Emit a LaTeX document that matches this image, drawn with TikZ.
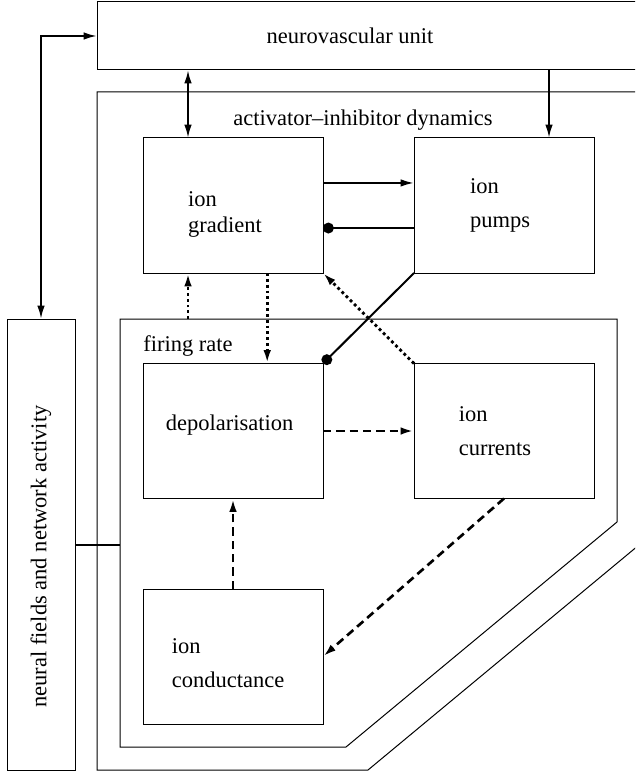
\documentclass[tikz,border=0pt]{standalone}
\usepackage{fontspec}
\setmainfont{Liberation Serif}
\usepackage{graphicx}
\usetikzlibrary{arrows.meta, positioning, calc}

\begin{document}
\begin{tikzpicture}[
    x=0.6pt, y=-0.6pt,
    node distance=54.3pt and 54.6pt,
    every node/.style={font=\fontsize{13.5}{20}\selectfont},
    every label/.style={align=left},
    frame/.style={draw, line width=0.6pt},
    box/.style={frame, inner sep=0pt, outer sep=0pt,
                minimum width=108pt, minimum height=81pt},
    arrow/.style={-{Latex[length=8pt, width=4.5pt]}, line width=1.2pt},
    twoway/.style={{Latex[length=8pt, width=4.5pt]}-{Latex[length=8pt, width=4.5pt]},
                   line width=1.2pt},
    inhib/.style={-{Circle[length=6.5pt]}, line width=1.2pt},
    dotarrow/.style={arrow, line width=1.7pt, dash pattern=on 1.7pt off 1.8pt},
    dasharrow/.style={arrow, line width=1.6pt, dash pattern=on 5pt off 3pt}
]
    \clip (0,0) rectangle (635,773);

    % outer frames
    \node[frame, inner sep=0pt, outer sep=0pt, minimum width=328.8pt,
          minimum height=40.8pt,
          label={[xshift=-12.6pt]center:neurovascular unit}] (nvu) at (371,36) {};
    \node[frame, inner sep=0pt, outer sep=0pt, minimum width=40.8pt,
          minimum height=270.6pt,
          label={[yshift=-7.2pt]center:\rotatebox{90}{neural fields and network activity}}]
        (neural) at (41,544.5) {};
    \draw[frame] (645,92) -- (97,92) -- (97,770) -- (368,770) -- (645,540);
    \draw[frame] (120,319) -- (617,319) -- (617,522) -- (346,747)
        -- (120,747) -- cycle;
    \coordinate (rate-nw) at (120,319);
    \coordinate (rate-w) at (120,545);
    \node (dyn) at (363,120) {activator--inhibitor dynamics};
    \node[anchor=west, inner sep=0pt] (rate) at (143,346) {firing rate};

    % boxes
    \node[box, label={[xshift=-4.8pt, yshift=-5.4pt,
          font=\fontsize{13.5}{16}\selectfont]center:ion\\gradient}]
        (gradient) at (233,205.5) {};
    \node[box, right=of gradient,
          label={[xshift=-2.4pt]center:ion\\pumps}] (pumps) {};
    \node[box, below=of gradient,
          label={[xshift=-2pt, yshift=3.6pt]center:depolarisation}] (depol) {};
    \node[box, right=of depol,
          label={[xshift=-5.4pt]center:ion\\currents}] (currents) {};
    \node[box, below=of depol,
          label={[xshift=-3pt, yshift=-4pt]center:ion\\conductance}] (conduct) {};

    \coordinate (g-top) at ($(gradient.north west)!0.25!(gradient.north east)$);
    \coordinate (p-top) at ($(pumps.north west)!0.75!(pumps.north east)$);
    \coordinate (g-up) at ($(gradient.south west)!0.25!(gradient.south east)$);
    \coordinate (g-down) at ($(gradient.south west)!0.69!(gradient.south east)$);
    \coordinate (g-out) at ($(gradient.north east)!0.333!(gradient.south east)$);
    \coordinate (p-out) at ($(pumps.north west)!0.667!(pumps.south west)$);

    \draw[twoway] (neural.north) |- (nvu.west);
    \draw[twoway] (g-top |- nvu.south) -- (g-top);
    \draw[arrow] (p-top |- nvu.south) -- (p-top);
    \draw[arrow] (g-out) -- (g-out -| pumps.west);
    \draw[inhib] (p-out) -- (p-out -| gradient.east);
    \draw[dotarrow] (g-up |- rate-nw) -- (g-up);
    \draw[dotarrow] (g-down) -- (g-down |- depol.north);
    \draw[dotarrow] (currents.north west) -- (gradient.south east);
    \draw[inhib] (pumps.south west) -- (depol.north east);
    \draw[dasharrow] (depol.east) -- (currents.west);
    \draw[dasharrow] (currents.south) -- (conduct.east);
    \draw[dasharrow] (conduct.north) -- (depol.south);
    \draw[line width=1pt] (neural.east |- rate-w) -- (rate-w);
\end{tikzpicture}
\end{document}
